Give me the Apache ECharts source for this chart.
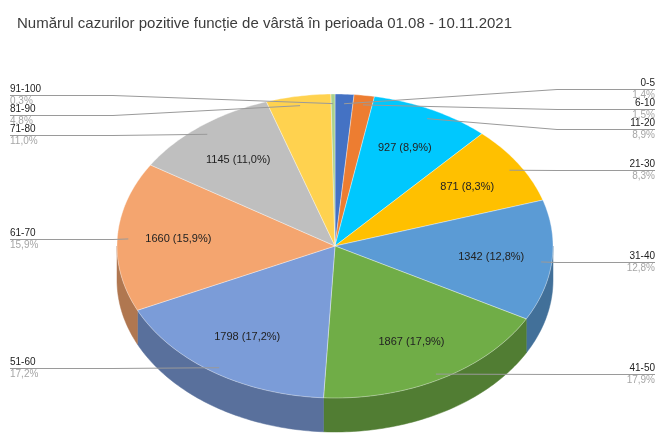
<!DOCTYPE html>
<html>
	<head>
		<meta charset="utf-8">
		<title></title>
		<script src="https://cdn.jsdelivr.net/npm/echarts@6/dist/echarts.min.js"></script>
		<style>
			html, body { margin: 0; padding: 0; background: #fff; }
		</style>
	</head>
	<body>
		<div id="main" style="width: 671px;height:446px;"></div>
		<script type="text/javascript">
			// grupe de varsta si numarul de cazuri
			var grupe = ['0-5', '6-10', '11-20', '21-30', '31-40', '41-50', '51-60', '61-70', '71-80', '81-90', '91-100'];
			var cazuri = [146, 157, 927, 871, 1342, 1867, 1798, 1660, 1145, 501, 31];
			var culori = ['#4472c4', '#ed7d31', '#00c8fe', '#ffc000', '#5b9bd5', '#70ad47', '#7b9cd8', '#f4a56f', '#bfbfbf', '#ffd24f', '#a9d18e'];

			var cx = 335, cy = 246, rx = 218, ry = 152, adanc = 34;
			var font = 'Arial, "Liberation Sans", sans-serif';

			var total = cazuri.reduce(function (a, b) { return a + b; }, 0);
			var unghiStart = [], unghiFinal = [];
			var acc = 0;
			for (var i = 0; i < cazuri.length; i++) {
				unghiStart.push(acc / total * 360);
				acc += cazuri[i];
				unghiFinal.push(acc / total * 360);
			}

			function pct(v) {
				return (v / total * 100).toFixed(1).replace('.', ',') + '%';
			}
			function pt(grd, r, dy) {
				var a = grd * Math.PI / 180;
				return [cx + rx * r * Math.sin(a), cy - ry * r * Math.cos(a) + (dy || 0)];
			}
			function arc(a0, a1, dy) {
				var pts = [];
				var n = Math.max(2, Math.ceil(Math.abs(a1 - a0)));
				for (var k = 0; k <= n; k++) pts.push(pt(a0 + (a1 - a0) * k / n, 1, dy));
				return pts;
			}
			function intuneca(hex, f) {
				var n = parseInt(hex.slice(1), 16);
				var r = Math.round((n >> 16) * f), g = Math.round(((n >> 8) & 255) * f), b = Math.round((n & 255) * f);
				return 'rgb(' + r + ',' + g + ',' + b + ')';
			}

			// pozitia etichetelor exterioare (grupate ca sa nu se suprapuna)
			var etichete = [];
			function aseaza(lista) {
				var cl = lista.map(function (e) { return { items: [e], c: e.ay }; });
				var schimbat = true;
				while (schimbat) {
					schimbat = false;
					for (var j = 0; j < cl.length - 1; j++) {
						var a = cl[j], b = cl[j + 1];
						var josA = a.c + (a.items.length - 1) * 10;
						var susB = b.c - (b.items.length - 1) * 10;
						if (susB - josA < 20) {
							var items = a.items.concat(b.items);
							var c = items.reduce(function (s, e) { return s + e.ay; }, 0) / items.length;
							cl.splice(j, 2, { items: items, c: c });
							schimbat = true;
							break;
						}
					}
				}
				cl.forEach(function (g) {
					g.items.forEach(function (e, k) { e.ly = Math.round(g.c + (k - (g.items.length - 1) / 2) * 20) + 0.5; });
				});
			}
			var dreapta = [], stanga = [];
			for (var i = 0; i < cazuri.length; i++) {
				var mid = (unghiStart[i] + unghiFinal[i]) / 2;
				var p = pt(mid, 0.95, 2);
				var e = { i: i, ax: p[0], ay: p[1], dreapta: mid < 180 };
				etichete.push(e);
				(e.dreapta ? dreapta : stanga).push(e);
			}
			stanga.reverse();
			aseaza(dreapta);
			aseaza(stanga);

			function renderItem(params, api) {
				var i = params.dataIndex;
				var a0 = unghiStart[i], a1 = unghiFinal[i];
				var copii = [];

				// peretele lateral (doar partea din fata)
				var s = Math.max(a0, 90), f = Math.min(a1, 270);
				if (f > s) {
					var sus = arc(s, f, 0), jos = arc(f, s, adanc);
					copii.push({
						type: 'polygon', z2: 1,
						shape: { points: sus.concat(jos) },
						style: { fill: intuneca(culori[i], 0.72), stroke: intuneca(culori[i], 0.72), lineWidth: 0.5 }
					});
				}

				// fata de sus
				copii.push({
					type: 'polygon', z2: 2,
					shape: { points: [[cx, cy]].concat(arc(a0, a1, 0)) },
					style: { fill: culori[i], stroke: 'rgba(255,255,255,0.6)', lineWidth: 0.6 }
				});

				// eticheta din interior
				if (api.value(1) / total > 0.05) {
					var m = pt((a0 + a1) / 2, 0.72);
					copii.push({
						type: 'text', z2: 5,
						style: {
							text: api.value(1) + ' (' + pct(api.value(1)) + ')',
							x: m[0], y: m[1],
							align: 'center', verticalAlign: 'middle',
							textAlign: 'center', textVerticalAlign: 'middle',
							fill: '#222', font: '11px ' + font
						}
					});
				}

				// eticheta exterioara cu linie
				var e = etichete[i];
				var xt = e.dreapta ? 655 : 10;
				var cot = e.dreapta ? 557 : 113;
				copii.push({
					type: 'polyline', z2: 4,
					shape: { points: [[xt, e.ly], [cot, e.ly], [e.ax, e.ay]] },
					style: { stroke: '#9a9a9a', lineWidth: 1, fill: null }
				});
				copii.push({
					type: 'text', z2: 5,
					style: {
						text: grupe[i], x: xt, y: e.ly - 1,
						align: e.dreapta ? 'right' : 'left', verticalAlign: 'bottom',
						textAlign: e.dreapta ? 'right' : 'left', textVerticalAlign: 'bottom',
						fill: '#222', font: '10px ' + font
					}
				});
				copii.push({
					type: 'text', z2: 5,
					style: {
						text: pct(api.value(1)), x: xt, y: e.ly + 1,
						align: e.dreapta ? 'right' : 'left', verticalAlign: 'top',
						textAlign: e.dreapta ? 'right' : 'left', textVerticalAlign: 'top',
						fill: '#a6a6a6', font: '10px ' + font
					}
				});

				return { type: 'group', children: copii };
			}

			var myChart = echarts.init(document.getElementById('main'));
			var option = {
				backgroundColor: '#fff',
				animation: false,
				title: {
					text: 'Numărul cazurilor pozitive funcție de vârstă în perioada 01.08 - 10.11.2021',
					left: 12,
					top: 11,
					textStyle: { fontFamily: font, fontSize: 15, fontWeight: 'normal', color: '#3c3c3c' }
				},
				series: [
					{
						type: 'custom',
						coordinateSystem: 'none',
						renderItem: renderItem,
						data: cazuri.map(function (v, i) { return [i, v]; })
					}
				]
			};
			myChart.setOption(option);
		</script>
	</body>
</html>
